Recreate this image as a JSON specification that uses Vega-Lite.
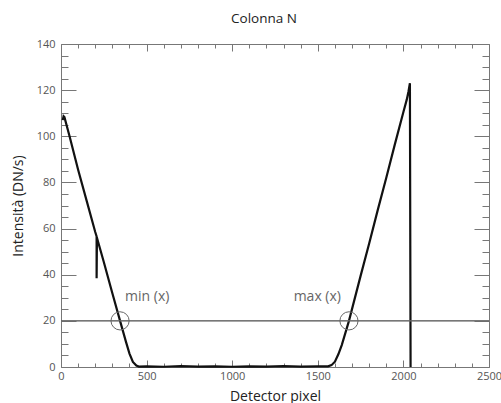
{
  "$schema": "https://vega.github.io/schema/vega-lite/v6.json",
  "width": 428,
  "height": 323,
  "autosize": "none",
  "padding": {"left": 61, "top": 44, "right": 12, "bottom": 36},
  "title": {"text": "Colonna N", "fontSize": 13.5, "fontWeight": "normal", "font": "Open Sans", "offset": 13, "dx": -11, "color": "#222"},
  "config": {
    "view": {"stroke": null},
    "axis": {"grid": false, "domainColor": "#777", "tickColor": "#777", "labelColor": "#555", "labelFont": "Open Sans", "labelFontSize": 11, "titleFont": "Open Sans", "titleFontWeight": "normal", "titleFontSize": 14, "titleColor": "#222", "labelFlush": false}
  },
  "datasets": {
    "curve": [
      {"px": 10, "val": 107}, {"px": 15, "val": 108.7}, {"px": 20, "val": 108.3}, {"px": 50, "val": 100},
      {"px": 100, "val": 85.5}, {"px": 150, "val": 72}, {"px": 200, "val": 58.5}, {"px": 208, "val": 56.6},
      {"px": 208, "val": 38.5}, {"px": 210, "val": 56}, {"px": 250, "val": 45.5}, {"px": 300, "val": 32},
      {"px": 345, "val": 20}, {"px": 380, "val": 10.8}, {"px": 400, "val": 5.8}, {"px": 420, "val": 2.2},
      {"px": 440, "val": 0.6}, {"px": 455, "val": 0.2}, {"px": 500, "val": 0.3}, {"px": 600, "val": 0.1},
      {"px": 700, "val": 0.4}, {"px": 800, "val": 0.2}, {"px": 900, "val": 0.3}, {"px": 1000, "val": 0.1},
      {"px": 1100, "val": 0.3}, {"px": 1200, "val": 0.2}, {"px": 1300, "val": 0.4}, {"px": 1400, "val": 0.2},
      {"px": 1500, "val": 0.3}, {"px": 1560, "val": 0.3}, {"px": 1580, "val": 0.8}, {"px": 1600, "val": 2.3},
      {"px": 1620, "val": 5.5}, {"px": 1640, "val": 9.5}, {"px": 1682, "val": 20}, {"px": 1750, "val": 39.5},
      {"px": 1800, "val": 53.5}, {"px": 1850, "val": 68}, {"px": 1900, "val": 82}, {"px": 1950, "val": 96.5},
      {"px": 2000, "val": 110.5}, {"px": 2020, "val": 116}, {"px": 2030, "val": 119.5}, {"px": 2038, "val": 123},
      {"px": 2042, "val": 0}
    ],
    "marks": [
      {"px": 345, "val": 20, "label": "min (x)", "lx": 374, "ly": 30.5},
      {"px": 1682, "val": 20, "label": "max  (x)", "lx": 1359, "ly": 30.5}
    ]
  },
  "layer": [
    {
      "data": {"name": "curve"},
      "mark": {"type": "line", "color": "#111", "strokeWidth": 2.2, "interpolate": "linear"},
      "encoding": {
        "x": {"field": "px", "type": "quantitative", "sort": null,
          "scale": {"domain": [0, 2500], "nice": false, "zero": false},
          "axis": {"orient": "bottom", "format": "d", "values": [0,100,200,300,400,500,600,700,800,900,1000,1100,1200,1300,1400,1500,1600,1700,1800,1900,2000,2100,2200,2300,2400,2500],
            "labelExpr": "datum.value % 500 === 0 ? datum.label : ''",
            "tickSize": {"condition": {"test": "datum.value % 500 === 0", "value": -7}, "value": -4},
            "labelPadding": 10, "title": "Detector pixel", "titlePadding": 8}},
        "y": {"field": "val", "type": "quantitative",
          "scale": {"domain": [0, 140], "nice": false},
          "axis": {"orient": "left", "format": "d", "values": [0,5,10,15,20,25,30,35,40,45,50,55,60,65,70,75,80,85,90,95,100,105,110,115,120,125,130,135,140],
            "labelExpr": "datum.value % 20 === 0 ? datum.label : ''",
            "tickSize": {"condition": {"test": "datum.value % 20 === 0", "value": -15}, "value": -7},
            "labelPadding": 21, "title": "Intensità  (DN/s)", "titlePadding": 11}}
      }
    },
    {
      "data": {"name": "marks"},
      "mark": {"type": "point", "opacity": 0},
      "encoding": {
        "x": {"field": "px", "type": "quantitative", "scale": {"domain": [0, 2500], "nice": false},
          "axis": {"orient": "top", "values": [0,100,200,300,400,500,600,700,800,900,1000,1100,1200,1300,1400,1500,1600,1700,1800,1900,2000,2100,2200,2300,2400,2500],
            "labels": false, "title": null,
            "tickSize": {"condition": {"test": "datum.value % 500 === 0", "value": -7}, "value": -4}}},
        "y": {"field": "val", "type": "quantitative", "scale": {"domain": [0, 140], "nice": false},
          "axis": {"orient": "right", "values": [0,5,10,15,20,25,30,35,40,45,50,55,60,65,70,75,80,85,90,95,100,105,110,115,120,125,130,135,140],
            "labels": false, "title": null,
            "tickSize": {"condition": {"test": "datum.value % 20 === 0", "value": -15}, "value": -7}}}
      }
    },
    {
      "data": {"name": "marks"},
      "mark": {"type": "rule", "color": "#666", "strokeWidth": 1},
      "encoding": {
        "y": {"datum": 20, "type": "quantitative", "scale": {"domain": [0, 140], "nice": false}, "axis": null}
      }
    },
    {
      "data": {"name": "marks"},
      "mark": {"type": "point", "shape": "circle", "filled": false, "color": "#666", "size": 330, "strokeWidth": 1, "opacity": 1},
      "encoding": {
        "x": {"field": "px", "type": "quantitative", "axis": null},
        "y": {"field": "val", "type": "quantitative", "axis": null}
      }
    },
    {
      "data": {"name": "marks"},
      "mark": {"type": "text", "align": "left", "baseline": "middle", "font": "Open Sans", "fontSize": 14, "color": "#666"},
      "encoding": {
        "x": {"field": "lx", "type": "quantitative", "axis": null},
        "y": {"field": "ly", "type": "quantitative", "axis": null},
        "text": {"field": "label"}
      }
    }
  ],
  "resolve": {"axis": {"x": "independent", "y": "independent"}}
}
